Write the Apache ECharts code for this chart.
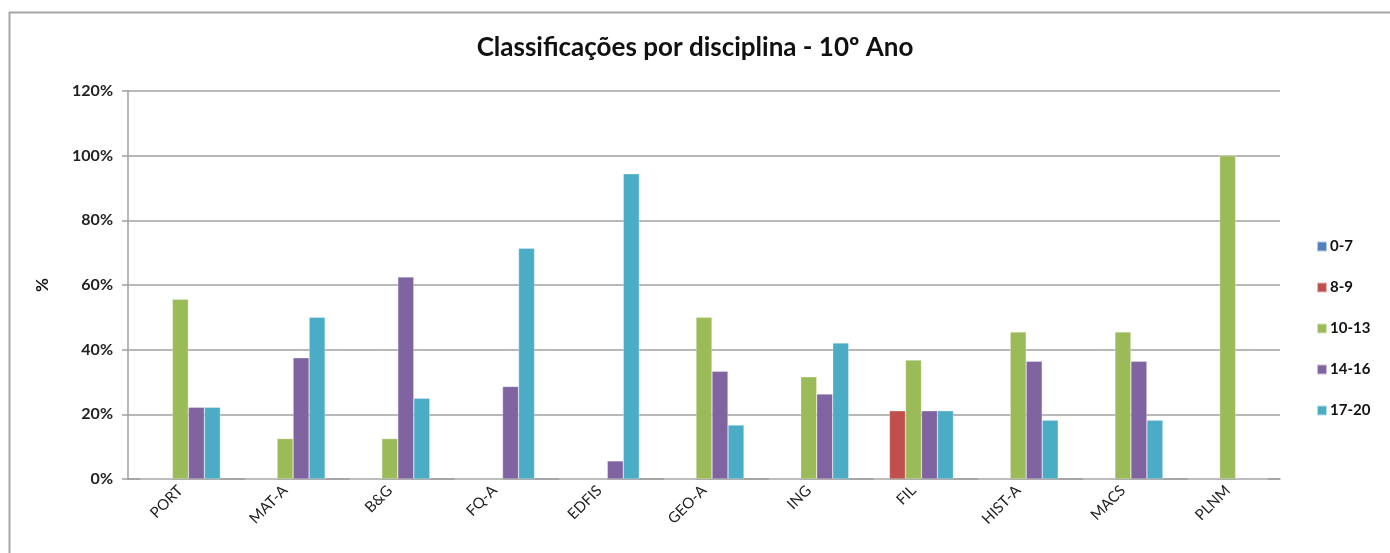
<!DOCTYPE html>
<html>
<head>
<meta charset="utf-8">
<script src="https://cdn.jsdelivr.net/npm/echarts@6/dist/echarts.min.js"></script>
<style>
  html, body { margin: 0; padding: 0; background: #ffffff; }
  #chart { width: 1390px; height: 553px; }
</style>
</head>
<body>
<div id="chart"></div>
<script>
// Disciplines along the x axis
const disciplinas = ['PORT', 'MAT-A', 'B&G', 'FQ-A', 'EDFIS', 'GEO-A', 'ING', 'FIL', 'HIST-A', 'MACS', 'PLNM'];

// Share of students (%) in each grade band, per discipline
const escalao0a7   = [0, 0, 0, 0, 0, 0, 0, 0, 0, 0, 0];
const escalao8a9   = [0, 0, 0, 0, 0, 0, 0, 21.1, 0, 0, 0];
const escalao10a13 = [55.6, 12.5, 12.5, 0, 0, 50.0, 31.6, 36.8, 45.5, 45.5, 100];
const escalao14a16 = [22.2, 37.5, 62.5, 28.6, 5.6, 33.3, 26.3, 21.1, 36.4, 36.4, 0];
const escalao17a20 = [22.2, 50.0, 25.0, 71.4, 94.4, 16.7, 42.1, 21.1, 18.2, 18.2, 0];

const nomesEscaloes = ['0-7', '8-9', '10-13', '14-16', '17-20'];
const valoresEscaloes = [escalao0a7, escalao8a9, escalao10a13, escalao14a16, escalao17a20];
const cores = ['#4F81BD', '#C0504D', '#9BBB59', '#8064A2', '#4BACC6'];

// Y axis ticks (percent)
const yMin = 0, yMax = 120, yStep = 20;

const FONT = 'Lato, "Open Sans", "DejaVu Sans", sans-serif';

const chart = echarts.init(document.getElementById('chart'), null, { renderer: 'canvas' });

chart.setOption({
  backgroundColor: '#ffffff',
  animation: false,
  title: {
    text: 'Classificações por disciplina - 10º Ano',
    left: 'center',
    top: 30,
    textStyle: { fontFamily: FONT, fontSize: 26, fontWeight: 'bold', color: '#111111' }
  },
  legend: {
    orient: 'vertical',
    left: 1311,
    top: 234,
    itemWidth: 10,
    itemHeight: 10,
    itemGap: 26,
    icon: 'rect',
    data: nomesEscaloes,
    textStyle: { fontFamily: FONT, fontSize: 15, fontWeight: 'bold', color: '#111111', padding: [0, 0, 0, -2] }
  },
  grid: { left: 128, right: 110, top: 91, bottom: 74, containLabel: false },
  xAxis: {
    type: 'category',
    data: disciplinas,
    axisLine: { show: true, lineStyle: { color: '#a0a0a0', width: 1.5 } },
    axisTick: { show: false },
    axisLabel: {
      interval: 0,
      rotate: 45,
      margin: 9,
      fontFamily: FONT,
      fontSize: 15,
      color: '#222222'
    }
  },
  yAxis: {
    type: 'value',
    min: yMin,
    max: yMax,
    interval: yStep,
    name: '%',
    nameLocation: 'middle',
    nameGap: 77,
    nameRotate: 90,
    nameTextStyle: { fontFamily: FONT, fontSize: 17, fontWeight: 'bold', color: '#111111' },
    axisLine: { show: true, lineStyle: { color: '#a0a0a0', width: 1.5 } },
    axisTick: { show: true, length: 6, lineStyle: { color: '#a0a0a0', width: 1.5 } },
    splitLine: { show: true, lineStyle: { color: '#a0a0a0', width: 1.5 } },
    axisLabel: {
      formatter: '{value}%',
      margin: 15,
      fontFamily: FONT,
      fontSize: 16,
      fontWeight: 'bold',
      color: '#222222'
    }
  },
  series: nomesEscaloes.map((nome, i) => ({
    name: nome,
    type: 'bar',
    data: valoresEscaloes[i],
    barGap: '0%',
    barCategoryGap: '23.6%',
    itemStyle: { color: cores[i], borderColor: 'rgba(255,255,255,0.6)', borderWidth: 0.5 }
  })),
  graphic: [
    // chart frame edges
    { type: 'line', shape: { x1: 9, y1: 12.5, x2: 1390, y2: 12.5 }, style: { stroke: '#a6a6a6', lineWidth: 2 } },
    { type: 'line', shape: { x1: 9.5, y1: 12, x2: 9.5, y2: 553 }, style: { stroke: '#a6a6a6', lineWidth: 2 } }
  ]
});
</script>
</body>
</html>
